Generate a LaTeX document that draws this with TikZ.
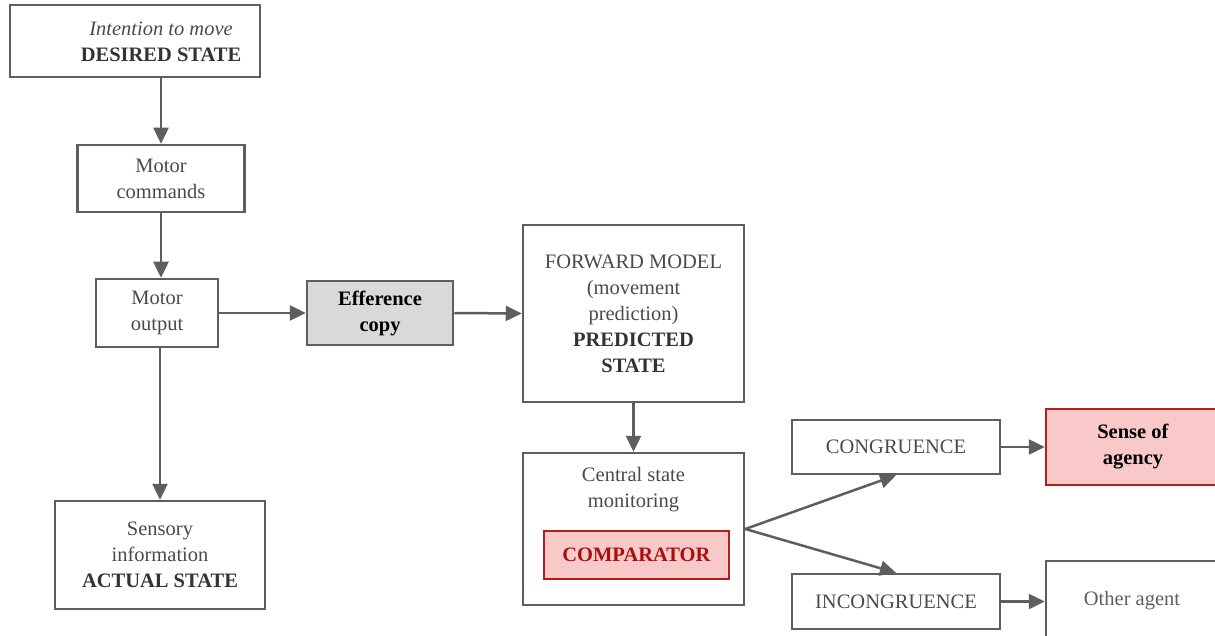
\documentclass[tikz,border=0pt]{standalone}
\usepackage{fontspec}
\setmainfont{Liberation Serif}
\usetikzlibrary{arrows.meta}
\definecolor{lin}{HTML}{5E5E5E}
\definecolor{txt}{HTML}{4A4A4A}
\definecolor{btxt}{HTML}{333333}
\definecolor{grayfill}{HTML}{D9D9D9}
\definecolor{pinkfill}{HTML}{F9C9C9}
\definecolor{redline}{HTML}{B41E1E}
\definecolor{redtxt}{HTML}{A81010}
\tikzset{
  box/.style={draw=lin, line width=2.5pt, fill=white, align=center, inner sep=0pt,
    text=txt, font=\fontsize{20.5}{26}\selectfont},
  redbox/.style={box, draw=redline, fill=pinkfill},
  plain/.style={align=center, inner sep=0pt, text=txt, font=\fontsize{20.5}{26}\selectfont},
  arr/.style={draw=lin, line width=2.5pt, -{Triangle[length=16pt,width=15pt]}},
}
\begin{document}
\begin{tikzpicture}[x=1pt,y=-1pt]
\useasboundingbox (0,0) rectangle (1215,636);
\clip (0,0) rectangle (1215,636);
\fill[white] (0,0) rectangle (1215,636);

\node[box, minimum width=250pt, minimum height=72pt] (desired) at (135,41) {};
\node[plain] (desiredtext) at (161,42) {\textit{Intention to move}\\\textbf{\color{btxt}DESIRED STATE}};

\node[box, minimum width=167pt, minimum height=67pt] (commands) at (161,178.5) {Motor\\commands};
\node[box, minimum width=122pt, minimum height=68pt] (output) at (157,313) {Motor\\output};
\node[box, minimum width=210pt, minimum height=108pt] (sensory) at (160,555) {Sensory\\information\\\textbf{\color{btxt}ACTUAL STATE}};
\node[box, fill=grayfill, minimum width=146pt, minimum height=64pt, text=black] (efference) at (380,313) {\textbf{Efference}\\\textbf{copy}};
\node[box, minimum width=221pt, minimum height=177pt] (forward) at (633.5,313.5) {FORWARD MODEL\\(movement\\prediction)\\\textbf{\color{btxt}PREDICTED}\\\textbf{\color{btxt}STATE}};
\node[box, minimum width=221pt, minimum height=152pt] (central) at (633.5,529) {};
\node[plain] (centraltext) at (633.5,490) {Central state\\monitoring};
\node[redbox, minimum width=185pt, minimum height=48pt, text=redtxt] (comparator) at (636.5,555) {\textbf{COMPARATOR}};
\node[box, minimum width=208pt, minimum height=54pt] (congruence) at (896,447) {CONGRUENCE};
\node[box, minimum width=208pt, minimum height=55pt] (incongruence) at (896,601.5) {INCONGRUENCE};
\node[redbox, minimum width=174pt, minimum height=76pt, text=black] (agency) at (1133,447) {\textbf{Sense of}\\\textbf{agency}};
\node[box, minimum width=174pt, minimum height=90pt] (other) at (1133,606) {};
\node[plain, text=lin] (othertext) at (1132,601) {Other agent};

\draw[arr] (161,77) -- (commands.north);
\draw[arr] (commands.south) -- (commands.south |- output.north);
\draw[arr] (output.south -| sensory.north) -- (sensory.north);
\draw[arr] (output.east) -- (efference.west);
\draw[arr] (efference.east) -- (forward.west);
\draw[arr] (forward.south) -- (central.north);
\draw[arr] (central.east) -- (congruence.south);
\draw[arr] (central.east) -- (incongruence.north);
\draw[arr] (congruence.east) -- (agency.west);
\draw[arr] (incongruence.east) -- (agency.west |- incongruence.east);
\end{tikzpicture}
\end{document}
